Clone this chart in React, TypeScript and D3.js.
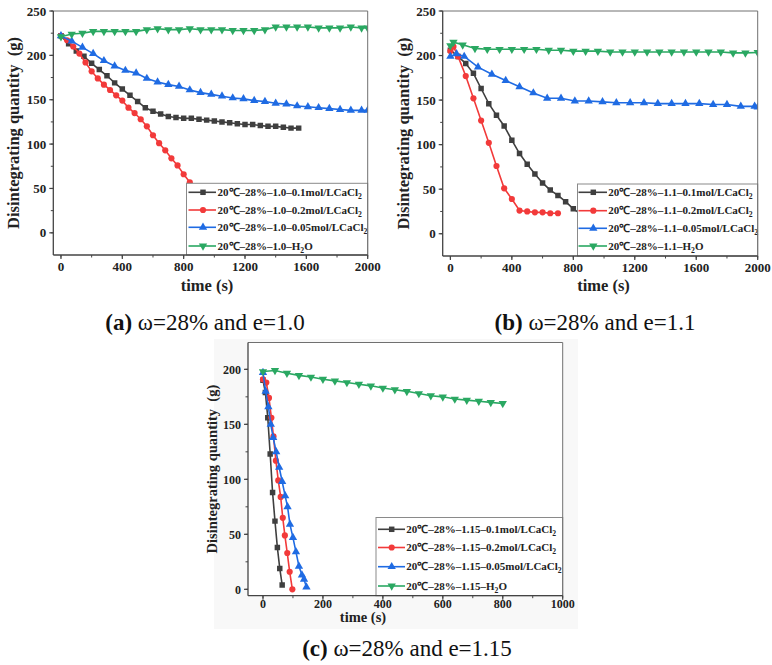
import React from 'react';
import * as d3 from 'd3';

const FONT = '"Liberation Serif", "Times New Roman", serif';

// ---------- Panel (a) data ----------
const A_T_01 = [0, 50, 100, 150, 200, 250, 300, 350, 400, 450, 500, 550, 600, 650, 700, 750, 800, 850, 900, 950, 1000, 1050, 1100, 1150, 1200, 1250, 1300, 1350, 1400, 1450, 1500, 1550];
const A_V_01 = [222, 213, 205, 199, 191, 184, 177, 169, 162, 155, 148, 141, 137, 134, 131, 130, 129, 129, 128, 127, 126, 125, 124, 123, 122, 122, 121, 120, 120, 119, 118, 118];
const A_T_02 = [0, 40, 80, 120, 160, 200, 240, 280, 320, 360, 400, 440, 480, 520, 560, 600, 640, 680, 720, 760, 800, 840];
const A_V_02 = [222, 217, 210, 202, 192, 182, 174, 167, 161, 155, 149, 141, 135, 128, 120, 110, 101, 93, 84, 76, 66, 57];
const A_T_005 = [0, 70, 140, 210, 280, 350, 420, 490, 560, 630, 700, 770, 840, 910, 980, 1050, 1120, 1190, 1260, 1330, 1400, 1470, 1540, 1610, 1680, 1750, 1820, 1890, 1960, 2000];
const A_V_005 = [222, 216, 209, 202, 194, 188, 183, 180, 174, 170, 167, 165, 161, 158, 156, 154, 152, 151, 149, 148, 146, 145, 143, 142, 141, 140, 139, 138, 138, 138];
const A_T_H2O = [0, 70, 140, 210, 280, 350, 420, 490, 560, 630, 700, 770, 840, 910, 980, 1050, 1120, 1190, 1260, 1330, 1400, 1470, 1540, 1610, 1680, 1750, 1820, 1890, 1960, 2000];
const A_V_H2O = [221, 224, 225, 227, 227, 227, 227, 227, 229, 230, 229, 229, 230, 229, 229, 229, 228, 228, 228, 229, 232, 232, 232, 232, 231, 231, 231, 232, 231, 231];
const A_LABELS = ['20℃–28%–1.0–0.1mol/LCaCl₂', '20℃–28%–1.0–0.2mol/LCaCl₂', '20℃–28%–1.0–0.05mol/LCaCl₂', '20℃–28%–1.0–H₂O'];

// ---------- Panel (b) data ----------
const B_T_01 = [0, 50, 100, 150, 200, 250, 300, 350, 400, 450, 500, 550, 600, 650, 700, 750, 800, 850];
const B_V_01 = [206, 199, 191, 180, 163, 146, 133, 121, 105, 90, 78, 67, 57, 49, 43, 36, 28, 22];
const B_T_02 = [0, 20, 50, 100, 150, 200, 250, 300, 350, 400, 450, 500, 550, 600, 650, 700];
const B_V_02 = [205, 210, 199, 177, 152, 127, 102, 76, 51, 39, 26, 25, 24, 24, 23, 23];
const B_T_005 = [0, 40, 90, 180, 270, 360, 450, 540, 630, 720, 810, 900, 990, 1080, 1170, 1260, 1350, 1440, 1530, 1620, 1710, 1800, 1890, 1980, 2000];
const B_V_005 = [199, 202, 199, 187, 179, 172, 165, 158, 152, 152, 149, 149, 148, 147, 147, 147, 146, 146, 146, 146, 145, 145, 143, 143, 142];
const B_T_H2O = [0, 20, 80, 160, 240, 320, 400, 480, 560, 640, 720, 800, 880, 960, 1040, 1120, 1200, 1280, 1360, 1440, 1520, 1600, 1680, 1760, 1840, 1920, 2000];
const B_V_H2O = [211, 215, 212, 208, 207, 207, 207, 207, 207, 206, 206, 205, 205, 205, 204, 204, 204, 204, 204, 204, 204, 204, 204, 204, 203, 203, 203.5];
const B_LABELS = ['20℃–28%–1.1–0.1mol/LCaCl₂', '20℃–28%–1.1–0.2mol/LCaCl₂', '20℃–28%–1.1–0.05mol/LCaCl₂', '20℃–28%–1.1–H₂O'];

// ---------- Panel (c) data ----------
const C_T_01 = [0, 8, 16, 24, 32, 40, 48, 56, 64];
const C_V_01 = [190, 179, 156, 123, 88, 62, 38, 19, 4];
const C_T_02 = [0, 11, 20, 28, 35, 43, 51, 59, 66, 73, 81, 89, 98];
const C_V_02 = [191, 188, 174, 156, 139, 117, 99, 84, 65, 49, 33, 16, 0];
const C_T_005 = [0, 9, 18, 26, 34, 44, 54, 64, 74, 82, 90, 100, 110, 120, 130, 137, 145];
const C_V_005 = [197, 180, 166, 150, 138, 125, 111, 98, 85, 75, 59, 47, 34, 21, 13, 9, 2];
const C_T_H2O = [0, 40, 80, 120, 160, 200, 240, 280, 320, 360, 400, 440, 480, 520, 560, 600, 640, 680, 720, 760, 800];
const C_V_H2O = [198, 199, 196.5, 194.5, 193, 191, 189.5, 188, 186.5, 185, 183, 181.5, 180, 178, 176, 175, 173, 172, 171, 170, 169];
const C_LABELS = ['20℃–28%–1.15–0.1mol/LCaCl₂', '20℃–28%–1.15–0.2mol/LCaCl₂', '20℃–28%–1.15–0.05mol/LCaCl₂', '20℃–28%–1.15–H₂O'];

// ---------- Ticks ----------
const AB_XTICKS = [0, 400, 800, 1200, 1600, 2000];
const AB_YTICKS = [0, 50, 100, 150, 200, 250];
const C_XTICKS = [0, 200, 400, 600, 800, 1000];
const C_YTICKS = [0, 50, 100, 150, 200];

const COLORS = ['#3f3f3f', '#f23a3a', '#1f6be3', '#2aa862'];
const SHAPES = ['square', 'circle', 'up', 'down'];

type Cfg = {
  id: string;
  left: number; right: number; top: number; bottom: number;
  xDomain: [number, number]; yDomain: [number, number];
  xTicks: number[]; yTicks: number[]; xMinorStep: number; yMinorStep: number;
  tickFont: number; tickGap: number; titleFont: number;
  yLabelX: number; xLabelX: number; xLabelY: number;
  legend: { left: number; top: number; rows: number[]; lx0: number; lx1: number; mx: number; tx: number; font: number };
  caption: { x: number; y: number; tag: string; rest: string };
  markerSize: number;
};

function markerPath(shape: string, size: number) {
  const t = shape === 'square' ? d3.symbolSquare : shape === 'circle' ? d3.symbolCircle : d3.symbolTriangle;
  return d3.symbol().type(t).size(size)() as string;
}

function LegendText({ x, y, label, font }: { x: number; y: number; label: string; font: number }) {
  const parts = label.split('₂');
  return (
    <text x={x} y={y} fontFamily={FONT} fontWeight="bold" fontSize={font} fill="#222">
      {parts.map((p, i) => (
        <React.Fragment key={i}>
          <tspan dy={i > 0 ? -3 : 0}>{p}</tspan>
          {i < parts.length - 1 && <tspan dy={3} fontSize={font * 0.7}>2</tspan>}
        </React.Fragment>
      ))}
    </text>
  );
}

function Panel({ cfg, series, labels }: { cfg: Cfg; series: { t: number[]; v: number[] }[]; labels: string[] }) {
  const x = d3.scaleLinear().domain(cfg.xDomain).range([cfg.left, cfg.right]);
  const y = d3.scaleLinear().domain(cfg.yDomain).range([cfg.bottom, cfg.top]);
  const line = d3.line<[number, number]>().x((d) => x(d[0])).y((d) => y(d[1]));
  const xMinor = d3.range(cfg.xTicks[0], cfg.xTicks[cfg.xTicks.length - 1] + 1, cfg.xMinorStep);
  const yMinor = d3.range(cfg.yTicks[0], cfg.yDomain[1] + 0.01, cfg.yMinorStep);
  const lg = cfg.legend;
  return (
    <g>
      <defs>
        <clipPath id={'clip-' + cfg.id}>
          <rect x={cfg.left} y={cfg.top} width={cfg.right - cfg.left} height={cfg.bottom - cfg.top} />
        </clipPath>
      </defs>
      <rect x={cfg.left} y={cfg.top} width={cfg.right - cfg.left} height={cfg.bottom - cfg.top} fill="#fff" />
      <g clipPath={`url(#clip-${cfg.id})`}>
        {series.map((s, i) => {
          const pts = s.t.map((t, j) => [t, s.v[j]] as [number, number]);
          const mp = markerPath(SHAPES[i], cfg.markerSize);
          return (
            <g key={i}>
              <path d={line(pts) as string} fill="none" stroke={COLORS[i]} strokeWidth={1.6} />
              {pts.map((p, j) => (
                <path key={j} d={mp} fill={COLORS[i]}
                  transform={`translate(${x(p[0])},${y(p[1])})${SHAPES[i] === 'down' ? ' rotate(180)' : ''}`} />
              ))}
            </g>
          );
        })}
      </g>
      <rect x={lg.left} y={lg.top} width={cfg.right - lg.left} height={cfg.bottom - lg.top} fill="#fff" stroke="#8a8a8a" strokeWidth={1} />
      {labels.map((lab, i) => (
        <g key={i}>
          <line x1={lg.lx0} x2={lg.lx1} y1={lg.rows[i]} y2={lg.rows[i]} stroke={COLORS[i]} strokeWidth={1.6} />
          <path d={markerPath(SHAPES[i], cfg.markerSize)} fill={COLORS[i]}
            transform={`translate(${lg.mx},${lg.rows[i]})${SHAPES[i] === 'down' ? ' rotate(180)' : ''}`} />
          <LegendText x={lg.tx} y={lg.rows[i] + lg.font * 0.33} label={lab} font={lg.font} />
        </g>
      ))}
      <line x1={cfg.left} x2={cfg.right} y1={cfg.top} y2={cfg.top} stroke="#707070" strokeWidth={1} />
      <line x1={cfg.right} x2={cfg.right} y1={cfg.top} y2={cfg.bottom} stroke="#707070" strokeWidth={1} />
      <line x1={cfg.left} x2={cfg.left} y1={cfg.top} y2={cfg.bottom} stroke="#444" strokeWidth={1.3} />
      <line x1={cfg.left} x2={cfg.right} y1={cfg.bottom} y2={cfg.bottom} stroke="#444" strokeWidth={1.3} />
      {xMinor.map((t) => (
        <line key={'xm' + t} x1={x(t)} x2={x(t)} y1={cfg.bottom} y2={cfg.bottom + 2.5} stroke="#444" strokeWidth={1} />
      ))}
      {cfg.xTicks.map((t) => (
        <g key={'x' + t}>
          <line x1={x(t)} x2={x(t)} y1={cfg.bottom} y2={cfg.bottom + 4} stroke="#444" strokeWidth={1.2} />
          <text x={x(t)} y={cfg.bottom + cfg.tickGap} textAnchor="middle" fontFamily={FONT} fontWeight="bold"
            fontSize={cfg.tickFont} fill="#222">{t}</text>
        </g>
      ))}
      {yMinor.map((v) => (
        <line key={'ym' + v} x1={cfg.left - 2.5} x2={cfg.left} y1={y(v)} y2={y(v)} stroke="#444" strokeWidth={1} />
      ))}
      {cfg.yTicks.map((v) => (
        <g key={'y' + v}>
          <line x1={cfg.left - 4} x2={cfg.left} y1={y(v)} y2={y(v)} stroke="#444" strokeWidth={1.2} />
          <text x={cfg.left - 7} y={y(v) + cfg.tickFont * 0.35} textAnchor="end" fontFamily={FONT} fontWeight="bold"
            fontSize={cfg.tickFont} fill="#222">{v}</text>
        </g>
      ))}
      <text transform={`translate(${cfg.yLabelX},${(cfg.top + cfg.bottom) / 2}) rotate(-90)`} textAnchor="middle"
        dominantBaseline="central" fontFamily={FONT} fontWeight="bold" fontSize={cfg.titleFont} fill="#222"
        style={{ whiteSpace: 'pre' }}>{'Disintegrating quantity  (g)'}</text>
      <text x={cfg.xLabelX} y={cfg.xLabelY} textAnchor="middle" fontFamily={FONT} fontWeight="bold"
        fontSize={cfg.titleFont} fill="#222">time (s)</text>
      <text x={cfg.caption.x} y={cfg.caption.y} textAnchor="middle" fontFamily={FONT} fontSize={23} fill="#111">
        <tspan fontWeight="bold">{cfg.caption.tag}</tspan>
        <tspan>{cfg.caption.rest}</tspan>
      </text>
    </g>
  );
}

const CFG_A: Cfg = {
  id: 'a', left: 53.3, right: 367.7, top: 11, bottom: 255,
  xDomain: [-50, 2000], yDomain: [-25, 250], xTicks: AB_XTICKS, yTicks: AB_YTICKS, xMinorStep: 200, yMinorStep: 25,
  tickFont: 13, tickGap: 16, titleFont: 16.5, yLabelX: 13.5, xLabelX: 207, xLabelY: 291,
  legend: { left: 186.5, top: 183.3, rows: [192.3, 210, 227.3, 246], lx0: 188.5, lx1: 216, mx: 203, tx: 217.5, font: 11 },
  caption: { x: 205, y: 330, tag: '(a)', rest: ' ω=28% and e=1.0' },
  markerSize: 30,
};
const CFG_B: Cfg = {
  id: 'b', left: 442.7, right: 757.7, top: 11, bottom: 256,
  xDomain: [-50, 2000], yDomain: [-25, 250], xTicks: AB_XTICKS, yTicks: AB_YTICKS, xMinorStep: 200, yMinorStep: 25,
  tickFont: 13, tickGap: 16, titleFont: 16.5, yLabelX: 403, xLabelX: 603.5, xLabelY: 291,
  legend: { left: 577.5, top: 184, rows: [192.3, 210.7, 228.3, 246], lx0: 578.5, lx1: 607, mx: 593.3, tx: 608.3, font: 11 },
  caption: { x: 595, y: 330, tag: '(b)', rest: ' ω=28% and e=1.1' },
  markerSize: 30,
};
const CFG_C: Cfg = {
  id: 'c', left: 248, right: 562.7, top: 342.5, bottom: 595.7,
  xDomain: [-50, 1000], yDomain: [-5.8, 224.4], xTicks: C_XTICKS, yTicks: C_YTICKS, xMinorStep: 100, yMinorStep: 25,
  tickFont: 12, tickGap: 12, titleFont: 14.5, yLabelX: 212, xLabelX: 363, xLabelY: 622,
  legend: { left: 376, top: 517.5, rows: [529.3, 547.5, 566.7, 586], lx0: 378, lx1: 405, mx: 391.7, tx: 406.3, font: 11 },
  caption: { x: 407, y: 656, tag: '(c)', rest: ' ω=28% and e=1.15' },
  markerSize: 30,
};

export default function App() {
  return (
    <svg width={772} height={665} style={{ position: 'absolute', left: 0, top: 0, background: '#fff' }}>
      <rect x={0} y={0} width={772} height={665} fill="#fff" />
      <rect x={214} y={339} width={364} height={290} fill="#f8f8f8" />
      <Panel cfg={CFG_A} labels={A_LABELS} series={[
        { t: A_T_01, v: A_V_01 }, { t: A_T_02, v: A_V_02 }, { t: A_T_005, v: A_V_005 }, { t: A_T_H2O, v: A_V_H2O },
      ]} />
      <Panel cfg={CFG_B} labels={B_LABELS} series={[
        { t: B_T_01, v: B_V_01 }, { t: B_T_02, v: B_V_02 }, { t: B_T_005, v: B_V_005 }, { t: B_T_H2O, v: B_V_H2O },
      ]} />
      <Panel cfg={CFG_C} labels={C_LABELS} series={[
        { t: C_T_01, v: C_V_01 }, { t: C_T_02, v: C_V_02 }, { t: C_T_005, v: C_V_005 }, { t: C_T_H2O, v: C_V_H2O },
      ]} />
    </svg>
  );
}
